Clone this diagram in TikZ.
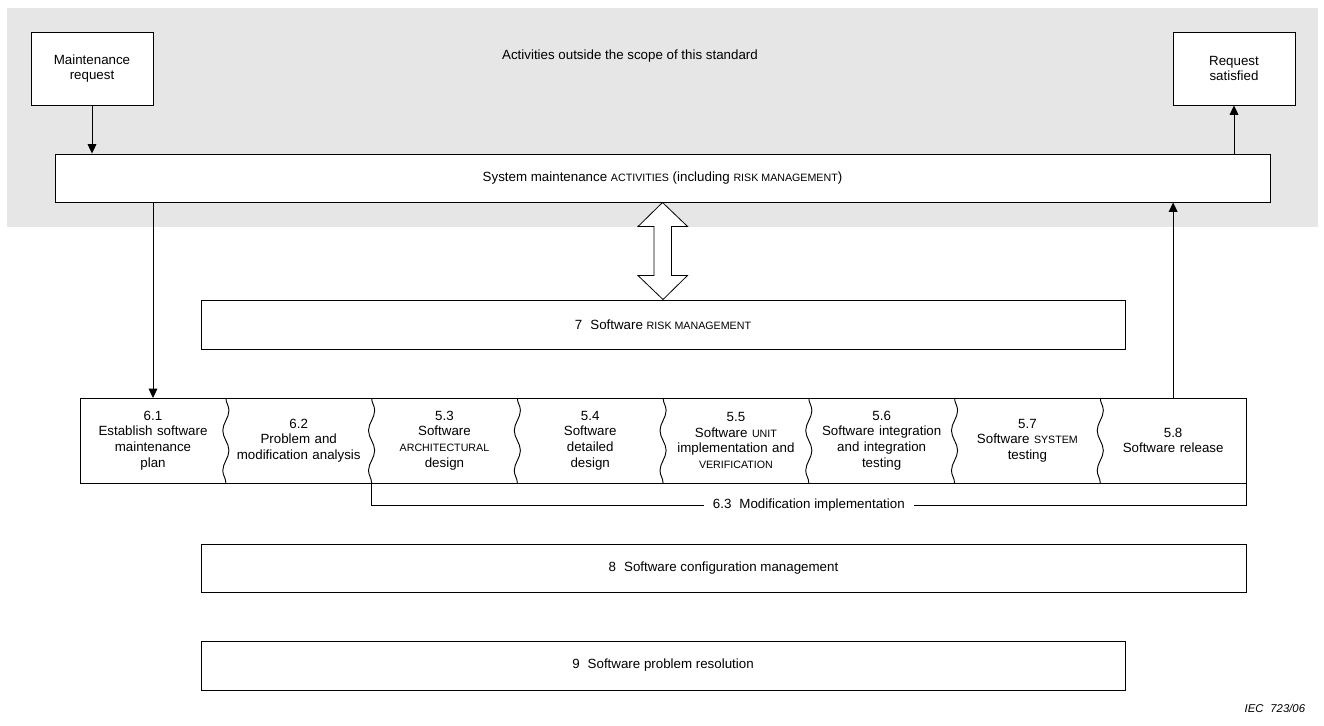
\documentclass[tikz,border=0pt]{standalone}
\usepackage{fontspec}
\setmainfont{Liberation Sans}
\usetikzlibrary{
  arrows.meta,
  positioning,              % right=of ...
  decorations.pathmorphing, % wavy dividers
}
\definecolor{bandgrey}{HTML}{E6E6E6}
\newcommand{\sm}[1]{{\fontsize{8}{9}\selectfont #1}}
\def\mystagew{109.3pt}
\def\mystageh{63.75pt}
\tikzset{
  font=\fontsize{10}{11.75}\selectfont,
  >={Triangle[length=7pt,width=6.5pt]},
  my box/.style={
    draw,
    rectangle,
    inner sep=1mm,
    align=center
  },
  my stage/.style={
    rectangle,
    minimum width=\mystagew,
    minimum height=\mystageh,
    text width=100pt,
    inner sep=0mm,
    outer sep=0mm,
    align=center
  },
  my wave/.style={
    decorate,
    decoration={snake,amplitude=2.3pt,segment length=30pt}
  }
}

\begin{document}
\begin{tikzpicture}[x=0.75pt,y=-0.75pt,line width=0.7pt]
\useasboundingbox (0,0) rectangle (1324,725);
\fill[bandgrey] (7,8) rectangle (1318,227);
\node[my box,fill=white,minimum width=91.5pt,minimum height=54.75pt] (req) at (92,68.5) {Maintenance\\request};
\node[my box,fill=white,minimum width=91.5pt,minimum height=54.75pt] (sat) at (1234,68.5) {Request\\satisfied};
\node (scope) at (630,56) {Activities outside the scope of this standard};
\node[my box,fill=white,minimum width=911.25pt,minimum height=36pt] (sys) at (662.5,178)
  {System maintenance \sm{ACTIVITIES} (including \sm{RISK MANAGEMENT})};
\node[my box,minimum width=693pt,minimum height=36.75pt] (risk) at (663,324.5) {7\hspace{0.6em}Software \sm{RISK MANAGEMENT}};
\node[my box,minimum width=783.75pt,minimum height=36pt] (conf) at (723.5,568) {8\hspace{0.6em}Software configuration management};
\node[my box,minimum width=693pt,minimum height=36.75pt] (prob) at (663,665.5) {9\hspace{0.6em}Software problem resolution};

% process stages
\node[my stage] (p61) at (153,440.5) {6.1\\Establish software\\maintenance\\plan};
\node[my stage,right=0pt of p61] (p62) {6.2\\Problem and\\modification analysis};
\node[my stage,right=0pt of p62] (p53) {5.3\\Software\\\sm{ARCHITECTURAL}\\design};
\node[my stage,right=0pt of p53] (p54) {5.4\\Software\\detailed\\design};
\node[my stage,right=0pt of p54] (p55) {5.5\\Software \sm{UNIT}\\implementation and\\\sm{VERIFICATION}};
\node[my stage,right=0pt of p55] (p56) {5.6\\Software integration\\and integration\\testing};
\node[my stage,right=0pt of p56] (p57) {5.7\\Software \sm{SYSTEM}\\testing};
\node[my stage,right=0pt of p57] (p58) {5.8\\Software release};
\draw (p61.north west) rectangle (p58.south east);
\foreach \s in {p61,p62,p53,p54,p55,p56,p57}
  \draw[my wave] (\s.north east) -- (\s.south east);
\draw (p53.south west) -- ++(0,22) -| node[pos=0.25,fill=white,inner xsep=7pt]
  {6.3\hspace{0.6em}Modification implementation} (p58.south east);

\path[->]
  (req)              edge (req |- sys.north)
  (sys.north -| sat) edge (sat)
  (sys.south -| p61) edge (p61.north)
  (p58.north)        edge (sys.south -| p58);
\draw[fill=white,line width=0.6pt] (sys.south) -- ++(25,24) -- ++(-16,0) -- ++(0,49) -- ++(16,0)
  -- (risk.north) -- ++(-25,-24) -- ++(16,0) -- ++(0,-49) -- ++(-16,0) -- cycle;

\node[anchor=east,font=\fontsize{8.5}{10}\selectfont\itshape] (fig) at (1310,708) {IEC\hspace{0.6em}723/06};
\end{tikzpicture}
\end{document}
